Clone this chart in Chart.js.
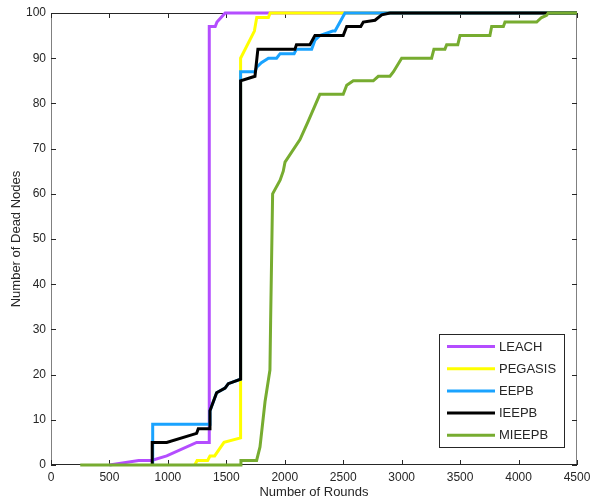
<!DOCTYPE html>
<html>
<head>
<meta charset="utf-8">
<script src="https://cdn.jsdelivr.net/npm/chart.js@4.4.0/dist/chart.umd.min.js"></script>
<style>
  html, body { margin: 0; padding: 0; background: #fff; }
  canvas { display: block; }
</style>
</head>
<body>
<canvas id="deadNodes" width="590" height="501"></canvas>
<script>
// Dead nodes vs rounds
const seriesNames = ["LEACH", "PEGASIS", "EEPB", "IEEPB", "MIEEPB"];
const seriesColors = ["#b44dff", "#ffff00", "#1aa3ff", "#000000", "#77ac30"];

const leachRounds = [500, 750, 860, 990, 1246, 1354, 1354, 1405, 1420, 1490, 4500];
const leachNodes  = [0, 1, 1, 2, 5, 5, 97, 97, 98, 100, 100];

const pegasisRounds = [1230, 1250, 1340, 1360, 1400, 1480, 1622, 1622, 1740, 1760, 1860, 1875, 4500];
const pegasisNodes  = [0, 1, 1, 2, 2, 5, 6, 90, 96, 99, 99, 100, 100];

const eepbRounds = [870, 870, 1354, 1360, 1417, 1489, 1517, 1622, 1622, 1745, 1760, 1800, 1860, 1930, 1960, 2080, 2100, 2230, 2258, 2300, 2410, 2430, 2515, 4500];
const eepbNodes  = [0, 9, 9, 12, 16, 17, 18, 19, 87, 87, 88, 89, 90, 90, 91, 91, 92, 92, 94, 95, 96, 96, 100, 100];

const ieepbRounds = [866, 866, 990, 1246, 1260, 1354, 1360, 1417, 1489, 1517, 1622, 1622, 1745, 1770, 2087, 2100, 2215, 2258, 2500, 2530, 2650, 2672, 2772, 2829, 2900, 4500];
const ieepbNodes  = [0, 5, 5, 7, 8, 8, 12, 16, 17, 18, 19, 85, 86, 92, 92, 93, 93, 95, 95, 97, 97, 98, 98.4, 99.6, 100, 100];

const mieepbRounds = [250, 1622, 1625, 1759, 1788, 1831, 1873, 1879, 1896, 1960, 1987, 2002, 2130, 2200, 2250, 2300, 2500, 2530, 2586, 2757, 2800, 2900, 2930, 3000, 3256, 3276, 3370, 3385, 3480, 3499, 3755, 3770, 3870, 3884, 4155, 4197, 4240, 4254, 4500];
const mieepbNodes  = [0, 0, 1, 1, 4, 14, 21, 32, 60, 63, 65, 67, 72, 76, 79, 82, 82, 84, 85, 85, 86, 86, 87, 90, 90, 92, 92, 93, 93, 95, 95, 97, 97, 98, 98, 99, 99.5, 100, 100];

const roundsTicks = [0, 500, 1000, 1500, 2000, 2500, 3000, 3500, 4000, 4500];
const nodesTicks = [0, 10, 20, 30, 40, 50, 60, 70, 80, 90, 100];

const allRounds = [leachRounds, pegasisRounds, eepbRounds, ieepbRounds, mieepbRounds];
const allNodes = [leachNodes, pegasisNodes, eepbNodes, ieepbNodes, mieepbNodes];

const textColor = "#262626";
const fontFamily = "'Liberation Sans', Arial, sans-serif";

// MATLAB style box with inward ticks
const framePlugin = {
    id: "frame",
    beforeDatasetsDraw(chart) {
        const { ctx, chartArea: a, scales } = chart;
        ctx.save();
        ctx.lineWidth = 1;
        ctx.strokeStyle = "#808080";
        ctx.beginPath();
        ctx.moveTo(Math.round(a.left) + 0.5, a.top);
        ctx.lineTo(Math.round(a.left) + 0.5, a.bottom);
        ctx.moveTo(Math.round(a.right) - 0.5, a.top);
        ctx.lineTo(Math.round(a.right) - 0.5, a.bottom);
        ctx.stroke();
        ctx.strokeStyle = textColor;
        ctx.beginPath();
        ctx.moveTo(a.left, Math.round(a.top) + 0.5);
        ctx.lineTo(a.right, Math.round(a.top) + 0.5);
        ctx.moveTo(a.left, Math.round(a.bottom) - 0.5);
        ctx.lineTo(a.right, Math.round(a.bottom) - 0.5);
        ctx.stroke();

        const tick = 5;
        ctx.beginPath();
        roundsTicks.forEach(function (v) {
            const x = Math.round(scales.x.getPixelForValue(v)) + 0.5;
            ctx.moveTo(x, a.bottom);
            ctx.lineTo(x, a.bottom - tick);
            ctx.moveTo(x, a.top);
            ctx.lineTo(x, a.top + tick);
        });
        nodesTicks.forEach(function (v) {
            const y = Math.round(scales.y.getPixelForValue(v)) + 0.5;
            ctx.moveTo(a.left, y);
            ctx.lineTo(a.left + tick, y);
            ctx.moveTo(a.right, y);
            ctx.lineTo(a.right - tick, y);
        });
        ctx.stroke();
        ctx.restore();
    },
    afterDraw(chart) {
        // legend box in the lower right corner
        const ctx = chart.ctx;
        const box = { left: 439.5, top: 334.5, right: 564.5, bottom: 447.5 };
        ctx.save();
        ctx.fillStyle = "#fff";
        ctx.fillRect(box.left, box.top, box.right - box.left, box.bottom - box.top);
        ctx.strokeStyle = textColor;
        ctx.lineWidth = 1;
        ctx.strokeRect(box.left, box.top, box.right - box.left, box.bottom - box.top);
        ctx.font = "13px " + fontFamily;
        ctx.textBaseline = "middle";
        ctx.textAlign = "left";
        chart.data.datasets.forEach(function (ds, i) {
            const y = 346.5 + i * 22.2;
            ctx.strokeStyle = ds.borderColor;
            ctx.lineWidth = 3;
            ctx.beginPath();
            ctx.moveTo(447, y);
            ctx.lineTo(495, y);
            ctx.stroke();
            ctx.fillStyle = textColor;
            ctx.fillText(ds.label, 499, y + 0.5);
        });
        ctx.restore();
    }
};

const datasets = seriesNames.map(function (name, i) {
    return {
        label: name,
        data: allRounds[i].map(function (r, j) { return { x: r, y: allNodes[i][j] }; }),
        borderColor: seriesColors[i],
        backgroundColor: seriesColors[i],
        borderWidth: 3,
        pointRadius: 0,
        tension: 0,
        fill: false,
        clip: false,
        order: seriesNames.length - i
    };
});

const ctx = document.getElementById("deadNodes").getContext("2d");
new Chart(ctx, {
    type: "line",
    data: { datasets: datasets },
    plugins: [framePlugin],
    options: {
        responsive: false,
        animation: false,
        layout: { padding: { top: 13, right: 13, left: 0, bottom: 0 } },
        plugins: {
            legend: { display: false },
            tooltip: { enabled: false }
        },
        scales: {
            x: {
                type: "linear",
                min: 0,
                max: 4500,
                afterBuildTicks: function (scale) {
                    scale.ticks = roundsTicks.map(function (v) { return { value: v }; });
                },
                afterFit: function (scale) {
                    scale.height = 36;
                    scale.paddingLeft = 0;
                    scale.paddingRight = 0;
                },
                grid: { display: false, drawTicks: false },
                border: { display: false },
                ticks: {
                    padding: 5,
                    maxRotation: 0,
                    autoSkip: false,
                    color: textColor,
                    font: { family: fontFamily, size: 12 },
                    callback: function (v) { return String(v); }
                },
                title: {
                    display: true,
                    text: "Number of Rounds",
                    color: textColor,
                    font: { family: fontFamily, size: 13 },
                    padding: { top: 0, bottom: 1 }
                }
            },
            y: {
                type: "linear",
                min: 0,
                max: 100,
                afterBuildTicks: function (scale) {
                    scale.ticks = nodesTicks.map(function (v) { return { value: v }; });
                },
                afterFit: function (scale) {
                    scale.width = 51;
                    scale.paddingTop = 0;
                    scale.paddingBottom = 0;
                },
                grid: { display: false, drawTicks: false },
                border: { display: false },
                ticks: {
                    padding: 5,
                    autoSkip: false,
                    color: textColor,
                    font: { family: fontFamily, size: 12 },
                    callback: function (v) { return String(v); }
                },
                title: {
                    display: true,
                    text: "Number of Dead Nodes",
                    color: textColor,
                    font: { family: fontFamily, size: 13 },
                    padding: { top: 9, bottom: 0 }
                }
            }
        }
    }
});
</script>
</body>
</html>
